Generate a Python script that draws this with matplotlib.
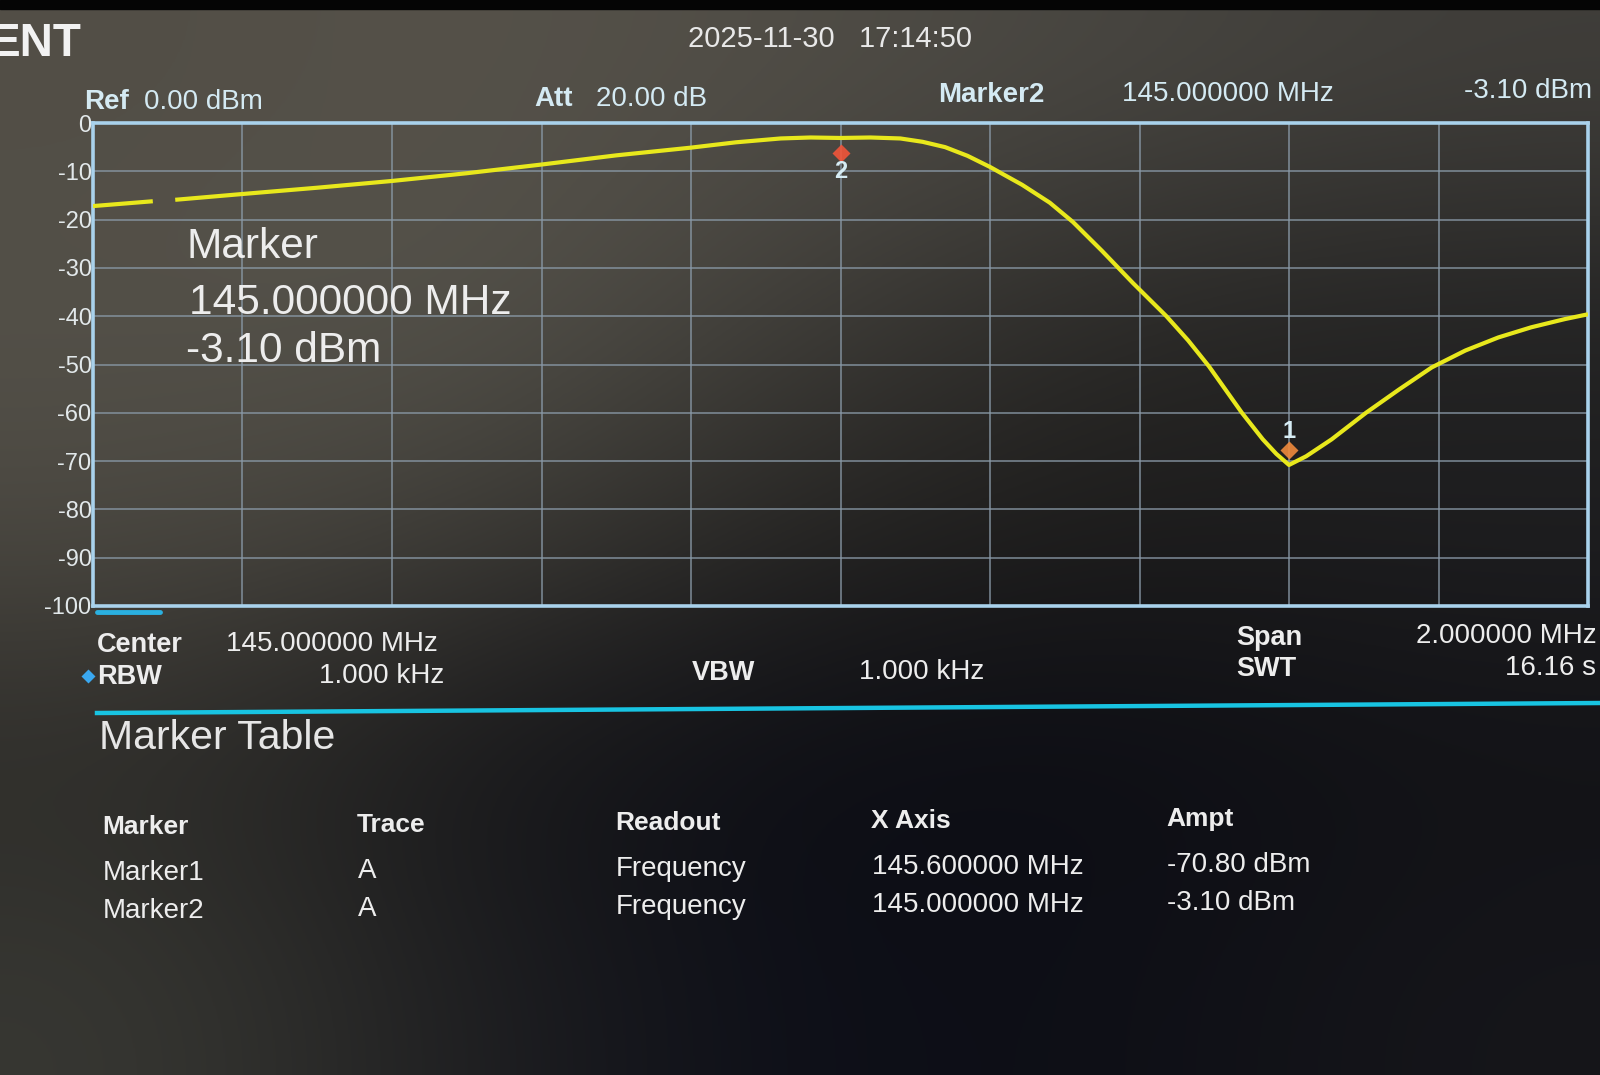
import numpy as np
import matplotlib
matplotlib.use("Agg")
import matplotlib.pyplot as plt
import matplotlib.transforms as mtransforms
from matplotlib import font_manager

# ---------------- data ----------------
freq_mhz = [144.000, 144.040, 144.080, 144.095, 144.110, 144.200, 144.300, 144.400,
            144.500, 144.600, 144.700, 144.800, 144.860, 144.920, 144.960, 145.000,
            145.040, 145.080, 145.110, 145.140, 145.170, 145.200, 145.243, 145.280,
            145.311, 145.350, 145.391, 145.436, 145.465, 145.493, 145.537, 145.565,
            145.583, 145.600, 145.623, 145.657, 145.703, 145.747, 145.791, 145.836,
            145.880, 145.924, 145.969, 146.000]
level_dbm = [-17.2, -16.7, -16.2, np.nan, -15.9, -14.7, -13.4, -12.0,
             -10.4, -8.6, -6.7, -5.1, -4.0, -3.2, -3.0, -3.1,
             -3.0, -3.2, -3.9, -5.0, -6.8, -9.1, -12.8, -16.5,
             -20.5, -26.5, -33.1, -40.0, -45.0, -50.4, -60.0, -65.5,
             -68.5, -70.8, -69.0, -65.5, -60.0, -55.2, -50.6, -47.1,
             -44.4, -42.3, -40.6, -39.6]

marker_names = ["Marker1", "Marker2"]
marker_trace = ["A", "A"]
marker_readout = ["Frequency", "Frequency"]
marker_freq = [145.600000, 145.000000]
marker_amp = [-70.80, -3.10]
active_marker = 1

y_ticks = [0, -10, -20, -30, -40, -50, -60, -70, -80, -90, -100]
center_mhz = 145.0
span_mhz = 2.0
ref_dbm = 0.00
att_db = 20.00
rbw_text = "1.000 kHz"
vbw_text = "1.000 kHz"
swt_text = "16.16 s"
timestamp = "2025-11-30   17:14:50"
title_text = "ENT"

# ---------------- fonts ----------------
names = {f.name for f in font_manager.fontManager.ttflist}
FONT = "Liberation Sans" if "Liberation Sans" in names else "DejaVu Sans"
plt.rcParams["font.family"] = [FONT, "DejaVu Sans"]

W, H = 1600, 1075
fig = plt.figure(figsize=(16, 10.75), dpi=100)

# ---------------- background (photo of screen) ----------------
bg = fig.add_axes([0, 0, 1, 1], zorder=0)
bg_grid = np.array([
    [[82, 78, 70], [86, 82, 74], [80, 77, 70], [72, 70, 65], [64, 62, 58]],
    [[84, 81, 73], [86, 84, 76], [62, 60, 56], [40, 39, 37], [34, 34, 34]],
    [[76, 73, 66], [62, 60, 55], [36, 35, 33], [28, 27, 26], [30, 30, 32]],
    [[44, 43, 40], [22, 22, 24], [12, 13, 20], [12, 13, 20], [18, 18, 22]],
    [[56, 56, 51], [30, 30, 32], [12, 14, 24], [14, 15, 22], [22, 22, 26]],
], dtype=float) / 255.0
bg.imshow(bg_grid, extent=[0, W, H, 0], interpolation="bicubic", aspect="auto")
bg.add_patch(plt.Rectangle((0, 0), W, 9, color="#050505"))
bg.set_xlim(0, W)
bg.set_ylim(H, 0)
bg.axis("off")

# ---------------- main trace axes ----------------
L, R, T, B = 93, 1588, 123, 606
ax = fig.add_axes([L / W, 1 - B / H, (R - L) / W, (B - T) / H], zorder=2)
ax.set_facecolor("none")
x0, x1 = center_mhz - span_mhz / 2, center_mhz + span_mhz / 2
ax.set_xlim(x0, x1)
ax.set_ylim(-100, 0)
ax.set_xticks(np.linspace(x0, x1, 11))
ax.set_yticks(y_ticks)
ax.set_yticklabels([str(v) for v in y_ticks])
ax.grid(True, color="#8a9aa8", lw=1.3, alpha=0.75)
ax.tick_params(length=0, labelbottom=False, labelsize=17, labelcolor="#e2e8ea", pad=1)
for s in ax.spines.values():
    s.set_color("#a9d2ec")
    s.set_linewidth(2.6)

ax.plot(freq_mhz, level_dbm, color="#e8e81c", lw=3.0, solid_joinstyle="round",
        solid_capstyle="butt", zorder=4)

# marker symbols and numbers
mk_colors = ["#f08a3c", "#f2553a"]
for i, (f, a) in enumerate(zip(marker_freq, marker_amp)):
    sign = 1 if a < -35 else -1
    tr = mtransforms.offset_copy(ax.transData, fig=fig, x=0, y=sign * 11, units="points")
    ax.plot([f], [a], marker="D", ms=9, color=mk_colors[i], mec="none",
            transform=tr, zorder=5, alpha=0.9)
    ax.annotate(str(i + 1), xy=(f, a), xytext=(0, sign * 24), textcoords="offset points",
                ha="center", va="center", fontsize=17, fontweight="bold",
                color="#d6ecf4", zorder=6)

# overlay for separators and small indicators
bar = fig.add_axes([0, 0, 1, 1], zorder=3)
bar.set_xlim(0, W)
bar.set_ylim(H, 0)
bar.axis("off")
bar.plot([97, 160], [612, 612], color="#2ab0e0", lw=3.5, solid_capstyle="round")
bar.plot([97, W], [713, 703], color="#18c4e2", lw=3.2)
bar.plot([88], [676], marker="D", ms=7, color="#3aa8f0", mec="none")


def ftext(x, y, s, **kw):
    kw.setdefault("va", "center")
    kw.setdefault("ha", "left")
    fig.text(x / W, 1 - y / H, s, zorder=7, **kw)


WHITE = "#ededed"
CYANW = "#d4eaf3"

# title and time
ftext(-10, 44, title_text, fontsize=33, fontweight="bold", color="#f2f2f2")
ftext(830, 39, timestamp, fontsize=21, color="#e8e8e8", ha="center")

# header row
ftext(84, 102, "Ref", fontsize=20, fontweight="bold", color=CYANW)
ftext(144, 102, f"{ref_dbm:.2f} dBm", fontsize=20, color=CYANW)
ftext(534, 99, "Att", fontsize=20, fontweight="bold", color=CYANW)
ftext(596, 99, f"{att_db:.2f} dB", fontsize=20, color=CYANW)
ftext(938, 95, marker_names[active_marker], fontsize=20, fontweight="bold", color=CYANW)
ftext(1122, 94, f"{marker_freq[active_marker]:.6f} MHz", fontsize=20, color=CYANW)
ftext(1592, 91, f"{marker_amp[active_marker]:.2f} dBm", fontsize=20, color=CYANW, ha="right")

# marker overlay in the trace area
ftext(186, 247, "Marker", fontsize=30.5, color=WHITE)
ftext(189, 303, f"{marker_freq[active_marker]:.6f} MHz", fontsize=30.5, color=WHITE)
ftext(186, 351, f"{marker_amp[active_marker]:.2f} dBm", fontsize=30.5, color=WHITE)

# settings below plot
ftext(97, 645, "Center", fontsize=19.5, fontweight="bold", color=WHITE)
ftext(226, 644, f"{center_mhz:.6f} MHz", fontsize=20, color=WHITE)
ftext(97, 677, "RBW", fontsize=19.5, fontweight="bold", color=WHITE)
ftext(444, 676, rbw_text, fontsize=20, color=WHITE, ha="right")
ftext(692, 673, "VBW", fontsize=19.5, fontweight="bold", color=WHITE)
ftext(859, 672, vbw_text, fontsize=20, color=WHITE)
ftext(1236, 638, "Span", fontsize=19.5, fontweight="bold", color=WHITE)
ftext(1416, 636, f"{span_mhz:.6f} MHz", fontsize=20, color=WHITE)
ftext(1236, 669, "SWT", fontsize=19.5, fontweight="bold", color=WHITE)
ftext(1505, 668, swt_text, fontsize=20, color=WHITE)

# marker table
ftext(99, 738, "Marker Table", fontsize=29.5, color="#e6e6e6")
col_x = [102, 357, 615, 871, 1166]
slant = -0.0075
headers = ["Marker", "Trace", "Readout", "X Axis", "Ampt"]
for x, h in zip(col_x, headers):
    ftext(x, 827 + slant * (x - 102), h, fontsize=19, fontweight="bold", color=WHITE)
for r in range(len(marker_names)):
    yb = 873 + r * 38
    vals = [marker_names[r], marker_trace[r], marker_readout[r],
            f"{marker_freq[r]:.6f} MHz", f"{marker_amp[r]:.2f} dBm"]
    for x, v in zip(col_x, vals):
        ftext(x + 1, yb + slant * (x - 102), v, fontsize=20, color=WHITE)

fig.savefig("out.png", dpi=100)
